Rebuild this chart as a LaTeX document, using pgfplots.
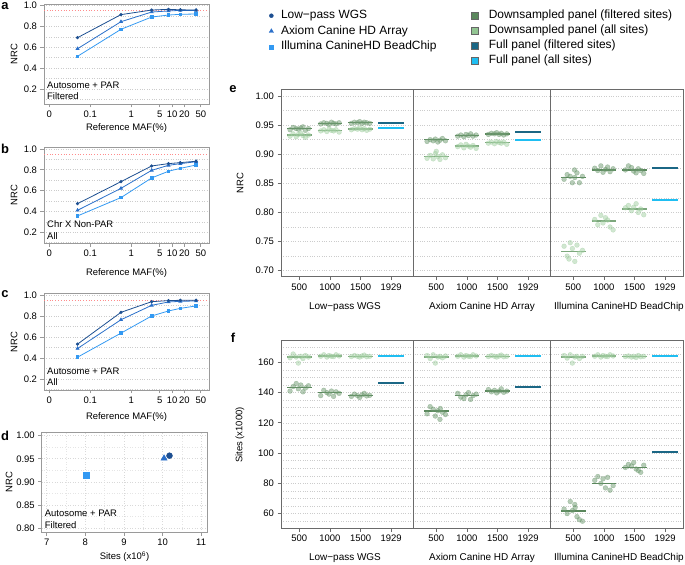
\documentclass[border=0pt]{standalone}
\usepackage{pgfplots}
\pgfplotsset{compat=1.18}
\usepackage{fontspec}
\setmainfont{Liberation Sans}
\definecolor{cwgs}{HTML}{1D4F91}
\definecolor{cax}{HTML}{2A6FC9}
\definecolor{cil}{HTML}{3399F2}
\definecolor{dfilt}{HTML}{5A875C}
\definecolor{dall}{HTML}{92C592}
\definecolor{pfilt}{HTML}{6E9A70}
\definecolor{pall}{HTML}{A3CFA3}
\definecolor{ffilt}{HTML}{1B6785}
\definecolor{fall}{HTML}{1FBEF2}
\definecolor{framegray}{HTML}{9A9A9A}
\definecolor{framedark}{HTML}{6A6A6A}
\pgfplotsset{
 base/.style={scale only axis,
   axis line style={framegray,line width=0.9bp},
   tick style={framegray,line width=0.8bp},
   tick align=outside, major tick length=3.5bp, minor tick length=0pt,
   xtick pos=left, ytick pos=left,
   ticklabel style={font=\fontsize{9.5}{11}\selectfont},
   /pgf/number format/assume math mode=true,
   major grid style={gray!40,dotted,line width=0.6bp},
   minor grid style={gray!40,dotted,line width=0.6bp},
 },
 mafpanel/.style={base, width=165bp, xmin=-2.13, xmax=1.9,
   xtick={-2,-1,0,0.69897,1,1.30103,1.69897}, xticklabels={0,0.1,1,5,10,20,50},
   ytick={0.2,0.4,0.6,0.8,1.0}, minor ytick={0.1,0.2,...,1.0},
   yticklabel style={/pgf/number format/.cd,fixed,fixed zerofill,precision=1},
   yminorgrids,
 },
 bigpanel/.style={base, width=402bp, height=187.7bp, xmin=0.404, xmax=13.52,
   axis line style={framedark,line width=0.9bp},
   tick style={framedark,line width=0.8bp},
   xtick={1,2,3,4,5.47,6.47,7.47,8.47,9.94,10.94,11.94,12.94},
   xticklabels={500,1000,1500,1929,500,1000,1500,1929,500,1000,1500,1929},
   yminorgrids, unbounded coords=jump,
 },
 pts/.style={only marks, color=#1, mark=*, mark size=2.4bp, mark options={fill=#1, draw=#1, opacity=0.5}},
 med/.style={no marks, draw=#1, line width=1.4bp},
 full/.style={no marks, draw=#1, line width=2bp},
}
\begin{document}
\begin{tikzpicture}
\useasboundingbox (0bp,0bp) rectangle (685bp,565bp);

% ---------- panel a ----------
\begin{axis}[mafpanel, at={(44bp,461bp)}, anchor=south west, height=100bp, ymin=0.056, ymax=1.016]
\addplot[no marks, draw=red!45, dotted, line width=0.8bp] coordinates {(-2.13,0.95) (1.9,0.95)};
\addplot[cil, line width=0.8bp, mark=square*, mark size=1.3bp] coordinates {(-1.31,0.514) (-0.25,0.773) (0.5,0.891) (0.91,0.910) (1.2,0.917) (1.585,0.920)};
\addplot[cax, line width=0.8bp, mark=triangle*, mark size=1.6bp] coordinates {(-1.31,0.587) (-0.25,0.846) (0.5,0.939) (0.91,0.949) (1.2,0.955) (1.585,0.955)};
\addplot[cwgs, line width=0.8bp, mark=*, mark size=1.2bp] coordinates {(-1.31,0.693) (-0.25,0.914) (0.5,0.958) (0.91,0.965) (1.2,0.960) (1.585,0.958)};
\node[anchor=south west, align=left, inner sep=0pt, font=\fontsize{9.5}{11.7}\selectfont] at ([xshift=3bp,yshift=4bp]rel axis cs:0,0) {Autosome + PAR\\Filtered};
\end{axis}

% ---------- panel b ----------
\begin{axis}[mafpanel, at={(44bp,321.7bp)}, anchor=south west, height=96.3bp, ymin=0.094, ymax=1.019]
\addplot[no marks, draw=red!45, dotted, line width=0.8bp] coordinates {(-2.13,0.95) (1.9,0.95)};
\addplot[cil, line width=0.8bp, mark=square*, mark size=1.3bp] coordinates {(-1.31,0.357) (-0.25,0.533) (0.5,0.722) (0.91,0.786) (1.2,0.814) (1.585,0.846)};
\addplot[cax, line width=0.8bp, mark=triangle*, mark size=1.6bp] coordinates {(-1.31,0.411) (-0.25,0.622) (0.5,0.795) (0.91,0.843) (1.2,0.859) (1.585,0.878)};
\addplot[cwgs, line width=0.8bp, mark=*, mark size=1.2bp] coordinates {(-1.31,0.475) (-0.25,0.686) (0.5,0.837) (0.91,0.859) (1.2,0.869) (1.585,0.882)};
\node[anchor=south west, align=left, inner sep=0pt, font=\fontsize{9.5}{11.7}\selectfont] at ([xshift=3bp,yshift=4bp]rel axis cs:0,0) {Chr X Non-PAR\\All};
\end{axis}

% ---------- panel c ----------
\begin{axis}[mafpanel, at={(44bp,175bp)}, anchor=south west, height=96.7bp, ymin=0.094, ymax=1.019]
\addplot[no marks, draw=red!45, dotted, line width=0.8bp] coordinates {(-2.13,0.95) (1.9,0.95)};
\addplot[cil, line width=0.8bp, mark=square*, mark size=1.3bp] coordinates {(-1.31,0.408) (-0.25,0.638) (0.5,0.802) (0.91,0.850) (1.2,0.875) (1.585,0.898)};
\addplot[cax, line width=0.8bp, mark=triangle*, mark size=1.6bp] coordinates {(-1.31,0.491) (-0.25,0.766) (0.5,0.904) (0.91,0.936) (1.2,0.942) (1.585,0.946)};
\addplot[cwgs, line width=0.8bp, mark=*, mark size=1.2bp] coordinates {(-1.31,0.533) (-0.25,0.837) (0.5,0.939) (0.91,0.949) (1.2,0.952) (1.585,0.952)};
\node[anchor=south west, align=left, inner sep=0pt, font=\fontsize{9.5}{11.7}\selectfont] at ([xshift=3bp,yshift=4bp]rel axis cs:0,0) {Autosome + PAR\\All};
\end{axis}

% ---------- panel d ----------
\begin{axis}[base, at={(41.7bp,32.7bp)}, anchor=south west, width=165.6bp, height=100bp,
  xmin=6.87, xmax=11.16, ymin=0.7907, ymax=1.0074,
  xtick={7,8,9,10,11}, ytick={0.80,0.85,0.90,0.95,1.00},
  minor xtick={7.5,8.5,9.5,10.5}, minor ytick={0.825,0.875,0.925,0.975},
  yticklabel style={/pgf/number format/.cd,fixed,fixed zerofill,precision=2},
  xmajorgrids, ymajorgrids, xminorgrids, yminorgrids,
  major grid style={gray!30,dotted,line width=0.6bp},
  minor grid style={gray!20,dotted,line width=0.5bp}]
\addplot[only marks, cil, mark=square*, mark size=3bp] coordinates {(8.01,0.9155)};
\addplot[only marks, cax, mark=triangle*, mark size=3.6bp] coordinates {(10.04,0.951)};
\addplot[only marks, cwgs, mark=*, mark size=3bp] coordinates {(10.18,0.9567)};
\node[anchor=south west, align=left, inner sep=0pt, font=\fontsize{9.5}{11.7}\selectfont] at ([xshift=3bp,yshift=4bp]rel axis cs:0,0) {Autosome + PAR\\Filtered};
\end{axis}

% ---------- panel e ----------
\begin{axis}[bigpanel, at={(281bp,288.3bp)}, anchor=south west, ymin=0.6897, ymax=1.012,
  ytick={0.70,0.75,0.80,0.85,0.90,0.95,1.00}, minor ytick={0.70,0.725,...,1.0},
  yticklabel style={/pgf/number format/.cd,fixed,fixed zerofill,precision=2}]
\addplot[pts=pfilt] coordinates {(0.7,0.942)(0.8,0.946)(0.9,0.944)(0.97,0.943)(1.05,0.945)(1.12,0.947)(1.2,0.941)(1.3,0.944)
(1.7,0.952)(1.8,0.954)(1.9,0.953)(1.97,0.951)(2.05,0.955)(2.12,0.953)(2.2,0.952)(2.3,0.954)
(2.7,0.953)(2.8,0.955)(2.9,0.954)(2.97,0.956)(3.05,0.953)(3.12,0.955)(3.2,0.954)(3.3,0.953)
(5.17,0.922)(5.27,0.925)(5.37,0.923)(5.44,0.926)(5.52,0.921)(5.59,0.924)(5.67,0.927)(5.77,0.923)
(6.17,0.931)(6.27,0.933)(6.37,0.930)(6.44,0.934)(6.52,0.932)(6.59,0.935)(6.67,0.931)(6.77,0.933)
(7.17,0.934)(7.27,0.936)(7.37,0.935)(7.44,0.937)(7.52,0.934)(7.59,0.936)(7.67,0.933)(7.77,0.935)
(9.64,0.857)(9.74,0.865)(9.84,0.862)(9.91,0.851)(9.99,0.860)(10.06,0.868)(10.14,0.851)(10.24,0.862)(9.98,0.873)
(10.64,0.876)(10.74,0.872)(10.84,0.880)(10.91,0.869)(10.99,0.874)(11.06,0.878)(11.14,0.870)(11.24,0.875)
(11.64,0.873)(11.74,0.880)(11.84,0.877)(11.91,0.871)(11.99,0.868)(12.06,0.875)(12.14,0.872)(12.24,0.867)};
\addplot[pts=pall] coordinates {(0.7,0.931)(0.8,0.935)(0.9,0.930)(0.97,0.934)(1.05,0.936)(1.12,0.932)(1.2,0.929)(1.3,0.933)
(1.7,0.940)(1.8,0.942)(1.9,0.939)(1.97,0.943)(2.05,0.941)(2.12,0.940)(2.2,0.942)(2.3,0.938)
(2.7,0.942)(2.8,0.944)(2.9,0.943)(2.97,0.945)(3.05,0.942)(3.12,0.944)(3.2,0.941)(3.3,0.943)
(5.17,0.893)(5.27,0.898)(5.37,0.892)(5.44,0.901)(5.52,0.896)(5.59,0.891)(5.67,0.899)(5.77,0.894)(5.47,0.905)
(6.17,0.913)(6.27,0.916)(6.37,0.911)(6.44,0.917)(6.52,0.914)(6.59,0.912)(6.67,0.915)(6.77,0.910)
(7.17,0.919)(7.27,0.921)(7.37,0.918)(7.44,0.922)(7.52,0.920)(7.59,0.919)(7.67,0.921)(7.77,0.917)
(9.64,0.742)(9.74,0.725)(9.84,0.748)(9.91,0.738)(9.99,0.716)(10.06,0.744)(10.14,0.730)(10.24,0.735)(9.8,0.720)
(10.64,0.788)(10.74,0.779)(10.84,0.795)(10.91,0.782)(10.99,0.791)(11.06,0.787)(11.14,0.775)(11.24,0.770)
(11.64,0.808)(11.74,0.812)(11.84,0.803)(11.91,0.809)(11.99,0.815)(12.06,0.800)(12.14,0.806)(12.24,0.796)};
\addplot[med=dfilt] coordinates {(0.6,0.944)(1.4,0.944) (nan,nan) (1.6,0.953)(2.4,0.953) (nan,nan) (2.6,0.954)(3.4,0.954) (nan,nan)
(5.07,0.925)(5.87,0.925) (nan,nan) (6.07,0.932)(6.87,0.932) (nan,nan) (7.07,0.935)(7.87,0.935) (nan,nan)
(9.54,0.860)(10.34,0.860) (nan,nan) (10.54,0.873)(11.34,0.873) (nan,nan) (11.54,0.873)(12.34,0.873)};
\addplot[med=dall!85!black] coordinates {(0.6,0.933)(1.4,0.933) (nan,nan) (1.6,0.941)(2.4,0.941) (nan,nan) (2.6,0.943)(3.4,0.943) (nan,nan)
(5.07,0.896)(5.87,0.896) (nan,nan) (6.07,0.914)(6.87,0.914) (nan,nan) (7.07,0.920)(7.87,0.920) (nan,nan)
(9.54,0.733)(10.34,0.733) (nan,nan) (10.54,0.785)(11.34,0.785) (nan,nan) (11.54,0.806)(12.34,0.806)};
\addplot[full=ffilt] coordinates {(3.58,0.9536)(4.42,0.9536)};
\addplot[full=ffilt] coordinates {(8.05,0.938)(8.89,0.938)};
\addplot[full=ffilt] coordinates {(12.52,0.876)(13.36,0.876)};
\addplot[full=fall] coordinates {(3.58,0.9444)(4.42,0.9444)};
\addplot[full=fall] coordinates {(8.05,0.924)(8.89,0.924)};
\addplot[full=fall] coordinates {(12.52,0.821)(13.36,0.821)};
\draw[framedark, line width=0.9bp] (axis cs:4.72,0.6897) -- (axis cs:4.72,1.012);
\draw[framedark, line width=0.9bp] (axis cs:9.21,0.6897) -- (axis cs:9.21,1.012);
\end{axis}

% ---------- panel f ----------
\begin{axis}[bigpanel, at={(281bp,36.7bp)}, anchor=south west, height=187.6bp, ymin=50.3, ymax=174.3,
  ytick={60,80,100,120,140,160}, minor ytick={50,55,...,175}]
\addplot[pts=pall] coordinates {(0.7,163)(0.8,165.5)(0.9,163.5)(0.97,159.5)(1.05,164)(1.12,162.5)(1.2,164.5)(1.3,163.5)
(1.7,164)(1.8,165)(1.9,163.5)(1.97,164.5)(2.05,164)(2.12,163.8)(2.2,165)(2.3,164.2)
(2.7,163.8)(2.8,164.5)(2.9,164)(2.97,163.5)(3.05,164.2)(3.12,164.8)(3.2,163.7)(3.3,164)
(5.17,164.5)(5.27,162.5)(5.37,165)(5.44,159.5)(5.52,163.5)(5.59,164)(5.67,163)(5.77,164.2)
(6.17,164)(6.27,165)(6.37,163.5)(6.44,164.5)(6.52,164)(6.59,163.8)(6.67,165)(6.77,164.2)
(7.17,163.8)(7.27,164.5)(7.37,164)(7.44,163.5)(7.52,164.2)(7.59,164.8)(7.67,163.7)(7.77,164)
(9.64,164.5)(9.74,162.8)(9.84,165)(9.91,159.5)(9.99,163.5)(10.06,164)(10.14,162.5)(10.24,164)
(10.64,164)(10.74,165)(10.84,163.5)(10.91,164.5)(10.99,164)(11.06,163.8)(11.14,165)(11.24,164.2)
(11.64,163.8)(11.74,164.2)(11.84,163.5)(11.91,164)(11.99,163.2)(12.06,164.5)(12.14,163.7)(12.24,164)};
\addplot[pts=pfilt] coordinates {(0.7,141)(0.8,144)(0.9,146)(0.97,142.5)(1.05,145)(1.12,140.5)(1.2,143)(1.3,144.5)
(1.7,138)(1.8,141.5)(1.9,140)(1.97,139)(2.05,141)(2.12,137.5)(2.2,140.5)(2.3,139.5)
(2.7,137.5)(2.8,139)(2.9,138)(2.97,136.8)(3.05,138.5)(3.12,139.5)(3.2,137.8)(3.3,138.2)
(5.17,126)(5.27,130.7)(5.37,129)(5.44,124.5)(5.52,128)(5.59,122.3)(5.67,127)(5.77,125.5)(5.6,129.5)
(6.17,139.5)(6.27,137)(6.37,136)(6.44,138.5)(6.52,140)(6.59,135.5)(6.67,138)(6.77,139)
(7.17,142)(7.27,140.5)(7.37,141.5)(7.44,139.8)(7.52,141)(7.59,142.5)(7.67,140.2)(7.77,141)
(9.64,63)(9.74,60)(9.84,68)(9.91,62)(9.99,66)(10.06,58)(10.14,56)(10.24,55)(10.0,64)
(10.64,82)(10.74,84.5)(10.84,80)(10.91,83)(10.99,77)(11.06,84)(11.14,75.5)(11.24,78.5)
(11.64,90.5)(11.74,92.5)(11.84,91.5)(11.91,93.7)(11.99,89.5)(12.06,88.5)(12.14,87.3)(12.24,92)};
\addplot[med=dall!85!black] coordinates {(0.6,163.5)(1.4,163.5) (nan,nan) (1.6,164.2)(2.4,164.2) (nan,nan) (2.6,164)(3.4,164) (nan,nan)
(5.07,163.5)(5.87,163.5) (nan,nan) (6.07,164.2)(6.87,164.2) (nan,nan) (7.07,164)(7.87,164) (nan,nan)
(9.54,163.5)(10.34,163.5) (nan,nan) (10.54,164.2)(11.34,164.2) (nan,nan) (11.54,163.7)(12.34,163.7)};
\addplot[med=dfilt] coordinates {(0.6,143.5)(1.4,143.5) (nan,nan) (1.6,140.2)(2.4,140.2) (nan,nan) (2.6,138.2)(3.4,138.2) (nan,nan)
(5.07,127.8)(5.87,127.8) (nan,nan) (6.07,138)(6.87,138) (nan,nan) (7.07,141)(7.87,141) (nan,nan)
(9.54,61.8)(10.34,61.8) (nan,nan) (10.54,80)(11.34,80) (nan,nan) (11.54,90.6)(12.34,90.6)};
\addplot[full=ffilt] coordinates {(3.58,146.1)(4.42,146.1)};
\addplot[full=ffilt] coordinates {(8.05,143.6)(8.89,143.6)};
\addplot[full=ffilt] coordinates {(12.52,100.5)(13.36,100.5)};
\addplot[full=fall] coordinates {(3.58,164.4)(4.42,164.4)};
\addplot[full=fall] coordinates {(8.05,164.4)(8.89,164.4)};
\addplot[full=fall] coordinates {(12.52,164.4)(13.36,164.4)};
\draw[framedark, line width=0.9bp] (axis cs:4.72,50.3) -- (axis cs:4.72,174.3);
\draw[framedark, line width=0.9bp] (axis cs:9.21,50.3) -- (axis cs:9.21,174.3);
\end{axis}

% ---------- legends ----------
\begin{axis}[hide axis, scale only axis, width=685bp, height=565bp, at={(0bp,0bp)}, anchor=south west,
  xmin=0, xmax=1, ymin=0, ymax=1,
  legend style={at={(0.3927,0.9858)}, anchor=north west, draw=none, fill=none, inner sep=0pt,
    font=\fontsize{12}{14}\selectfont, row sep=0.5bp,
    nodes={inner sep=1.5bp, text height=9bp, text depth=3bp},
    /tikz/every odd column/.append style={column sep=6bp}},
  legend cell align=left,
  legend image code/.code={\draw[#1] plot coordinates {(4bp,0bp)};}]
\addlegendimage{only marks, mark=*, cwgs, mark size=2bp}
\addlegendentry{Low−pass WGS}
\addlegendimage{only marks, mark=triangle*, cax, mark size=2.5bp}
\addlegendentry{Axiom Canine HD Array}
\addlegendimage{only marks, mark=square*, cil, mark size=2bp}
\addlegendentry{Illumina CanineHD BeadChip}
\end{axis}
\begin{axis}[hide axis, scale only axis, width=685bp, height=565bp, at={(0bp,0bp)}, anchor=south west,
  xmin=0, xmax=1, ymin=0, ymax=1,
  legend style={at={(0.6876,0.9858)}, anchor=north west, draw=none, fill=none, inner sep=0pt,
    font=\fontsize{12}{14}\selectfont, row sep=0bp,
    nodes={inner sep=1.5bp, text height=9bp, text depth=3bp},
    /tikz/every odd column/.append style={column sep=8.5bp}},
  legend cell align=left,
  legend image code/.code={\draw[#1] (0bp,-3.5bp) rectangle (7bp,3.5bp);}]
\addlegendimage{fill=dfilt, draw=black!60, line width=0.6bp}
\addlegendentry{Downsampled panel (filtered sites)}
\addlegendimage{fill=dall, draw=black!60, line width=0.6bp}
\addlegendentry{Downsampled panel (all sites)}
\addlegendimage{fill=ffilt, draw=black!60, line width=0.6bp}
\addlegendentry{Full panel (filtered sites)}
\addlegendimage{fill=fall, draw=black!60, line width=0.6bp}
\addlegendentry{Full panel (all sites)}
\end{axis}

% ---------- free text ----------
\begin{scope}[every node/.style={font=\fontsize{9.5}{11}\selectfont}]
\node[font=\fontsize{13}{15}\bfseries] at (5bp,559bp) {a};
\node[font=\fontsize{13}{15}\bfseries] at (5bp,416bp) {b};
\node[font=\fontsize{13}{15}\bfseries] at (5bp,271bp) {c};
\node[font=\fontsize{13}{15}\bfseries] at (5bp,129bp) {d};
\node[font=\fontsize{13}{15}\bfseries] at (233bp,476bp) {e};
\node[font=\fontsize{13}{15}\bfseries] at (233bp,227bp) {f};
\node[rotate=90] at (14bp,511bp) {NRC};
\node[rotate=90] at (14bp,370bp) {NRC};
\node[rotate=90] at (14bp,223bp) {NRC};
\node[rotate=90] at (9bp,83bp) {NRC};
\node[rotate=90] at (240bp,382bp) {NRC};
\node[rotate=90] at (240bp,130bp) {Sites (x1000)};
\node at (126.5bp,437bp) {Reference MAF(\%)};
\node at (126.5bp,292.3bp) {Reference MAF(\%)};
\node at (126.5bp,147.7bp) {Reference MAF(\%)};
\node at (124.5bp,8.3bp) {Sites (x10\textsuperscript{6})};
\node[font=\fontsize{10}{12}\selectfont] at (345bp,258.3bp) {Low−pass WGS};
\node[font=\fontsize{10}{12}\selectfont] at (482bp,258.3bp) {Axiom Canine HD Array};
\node[font=\fontsize{10}{12}\selectfont] at (619bp,258.3bp) {Illumina CanineHD BeadChip};
\node[font=\fontsize{10}{12}\selectfont] at (345bp,7.3bp) {Low−pass WGS};
\node[font=\fontsize{10}{12}\selectfont] at (482bp,7.3bp) {Axiom Canine HD Array};
\node[font=\fontsize{10}{12}\selectfont] at (619bp,7.3bp) {Illumina CanineHD BeadChip};
\end{scope}
\end{tikzpicture}
\end{document}
